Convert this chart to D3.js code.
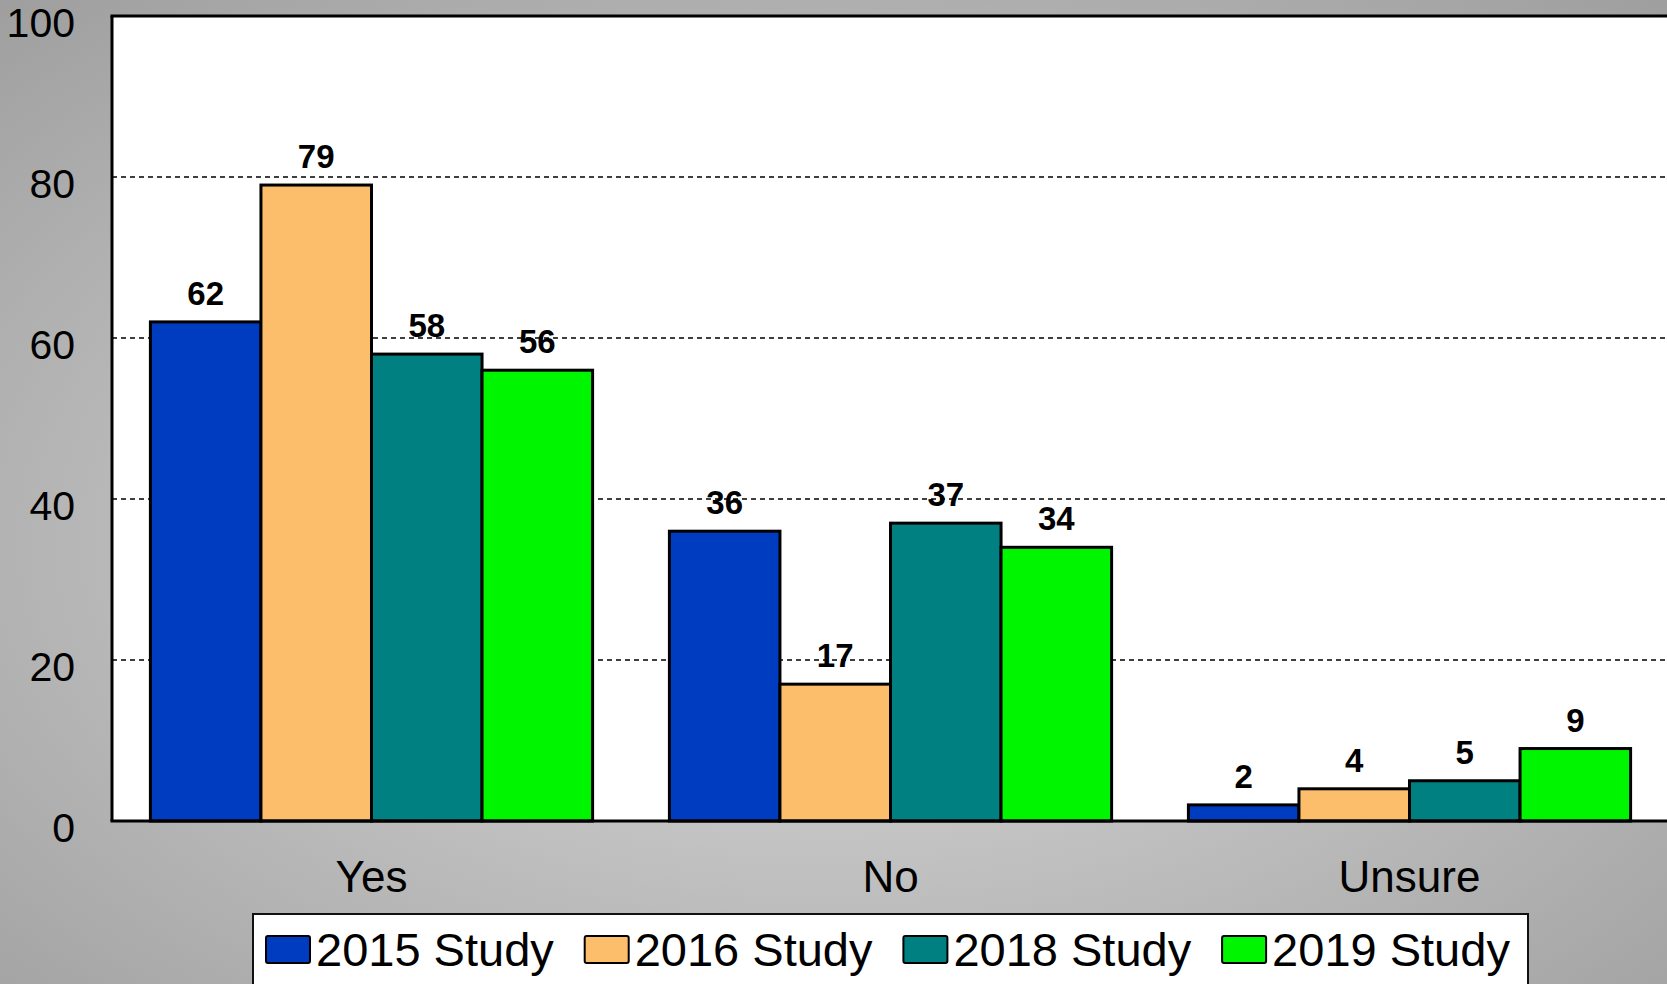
<!DOCTYPE html>
<html>
<head>
<meta charset="utf-8">
<script src="https://cdn.jsdelivr.net/npm/d3@7"></script>
<style>
  body { margin: 0; overflow: hidden; }
  svg { display: block; font-family: "Liberation Sans", Arial, sans-serif; }
</style>
</head>
<body>
<div class="chartHolder"></div>
<script>
// data
const categories = ["Yes", "No", "Unsure"];
const seriesNames = ["2015 Study", "2016 Study", "2018 Study", "2019 Study"];
const values2015 = [62, 36, 2];
const values2016 = [79, 17, 4];
const values2018 = [58, 37, 5];
const values2019 = [56, 34, 9];
const yTicks = [0, 20, 40, 60, 80, 100];
const colors = ["#003cbf", "#fdbe6b", "#008080", "#00f500"];

const seriesValues = [values2015, values2016, values2018, values2019];

// init variables ("top" is taken by window, so plot* names)
const width = 1667;
const height = 984;
const plotLeft = 112;
const plotBottom = 821;
const plotTop = 16;

let svg = d3
  .select(".chartHolder")
  .append("svg")
  .attr("width", width)
  .attr("height", height);

// gray background, lighter in the middle
let grad = svg.append("defs")
  .append("radialGradient")
  .attr("id", "bg")
  .attr("cx", "50%")
  .attr("cy", "55%")
  .attr("r", "75%");
grad.append("stop").attr("offset", "0%").attr("stop-color", "#dcdcdc");
grad.append("stop").attr("offset", "100%").attr("stop-color", "#9e9e9e");

svg.append("rect")
  .attr("width", width)
  .attr("height", height)
  .attr("fill", "url(#bg)");

// scales
let xScale = d3.scaleBand()
  .domain(categories)
  .range([plotLeft, plotLeft + 3 * 519])
  .paddingInner(0.148)
  .paddingOuter(0.074);

let xInner = d3.scaleBand()
  .domain(seriesNames)
  .range([0, xScale.bandwidth()]);

let yScale = d3.scaleLinear()
  .domain([0, 100])
  .range([plotBottom, plotTop]);

// plot area
svg.append("rect")
  .attr("x", plotLeft)
  .attr("y", yScale(100))
  .attr("width", width - plotLeft + 10)
  .attr("height", plotBottom - yScale(100))
  .attr("fill", "#fff");

// dashed grid lines
svg.append("g")
  .selectAll("line")
  .data(yTicks.filter((d) => d > 0 && d < 100))
  .enter()
  .append("line")
  .attr("x1", plotLeft)
  .attr("x2", width)
  .attr("y1", (d) => yScale(d))
  .attr("y2", (d) => yScale(d))
  .attr("stroke", "#000")
  .attr("stroke-width", 1.5)
  .attr("stroke-dasharray", "5,4");

// y axis labels
let yAxis = d3.axisLeft(yScale)
  .tickValues(yTicks)
  .tickSize(0)
  .tickPadding(37);

let yG = svg.append("g")
  .attr("transform", "translate(" + plotLeft + ",0)")
  .call(yAxis);
yG.select(".domain").remove();
yG.selectAll("text")
  .attr("font-size", 41)
  .attr("font-family", "Liberation Sans, Arial, sans-serif")
  .attr("fill", "#000")
  .attr("dy", "0.5em");

// bars
let groups = svg.append("g")
  .selectAll("g")
  .data(seriesNames)
  .enter()
  .append("g");

groups.selectAll("rect")
  .data((s, si) => categories.map((c, ci) => ({ c: c, s: s, v: seriesValues[si][ci], i: si })))
  .enter()
  .append("rect")
  .attr("x", (d) => xScale(d.c) + xInner(d.s))
  .attr("y", (d) => yScale(d.v))
  .attr("width", xInner.bandwidth())
  .attr("height", (d) => plotBottom - yScale(d.v))
  .attr("fill", (d) => colors[d.i])
  .attr("stroke", "#000")
  .attr("stroke-width", 3);

// value labels
groups.selectAll("text")
  .data((s, si) => categories.map((c, ci) => ({ c: c, s: s, v: seriesValues[si][ci] })))
  .enter()
  .append("text")
  .attr("x", (d) => xScale(d.c) + xInner(d.s) + xInner.bandwidth() / 2)
  .attr("y", (d) => yScale(d.v) - 17)
  .attr("text-anchor", "middle")
  .attr("font-size", 33)
  .attr("font-weight", "bold")
  .text((d) => d.v);

// frame: left, top and bottom lines
svg.append("line")
  .attr("x1", plotLeft).attr("x2", plotLeft)
  .attr("y1", yScale(100)).attr("y2", plotBottom)
  .attr("stroke", "#000").attr("stroke-width", 3);
svg.append("line")
  .attr("x1", plotLeft - 1.5).attr("x2", width)
  .attr("y1", yScale(100)).attr("y2", yScale(100))
  .attr("stroke", "#000").attr("stroke-width", 3);
svg.append("line")
  .attr("x1", plotLeft - 1.5).attr("x2", width)
  .attr("y1", plotBottom).attr("y2", plotBottom)
  .attr("stroke", "#000").attr("stroke-width", 3);

// category labels
svg.append("g")
  .selectAll("text")
  .data(categories)
  .enter()
  .append("text")
  .attr("x", (d) => xScale(d) + xScale.bandwidth() / 2)
  .attr("y", 892)
  .attr("text-anchor", "middle")
  .attr("font-size", 44)
  .text((d) => d);

// legend
let legend = svg.append("g");
legend.append("rect")
  .attr("x", 253)
  .attr("y", 914)
  .attr("width", 1275)
  .attr("height", 100)
  .attr("fill", "#fff")
  .attr("stroke", "#111")
  .attr("stroke-width", 2);

let items = legend.selectAll(".item")
  .data(seriesNames)
  .enter()
  .append("g")
  .attr("class", "item")
  .attr("transform", (d, i) => "translate(" + (266 + i * 318.7) + ",0)");

items.append("rect")
  .attr("x", 0)
  .attr("y", 936)
  .attr("width", 44)
  .attr("height", 27)
  .attr("rx", 2)
  .attr("fill", (d, i) => colors[i])
  .attr("stroke", "#000")
  .attr("stroke-width", 2);

items.append("text")
  .attr("x", 50)
  .attr("y", 966)
  .attr("font-size", 47)
  .text((d) => d);
</script>
</body>
</html>
